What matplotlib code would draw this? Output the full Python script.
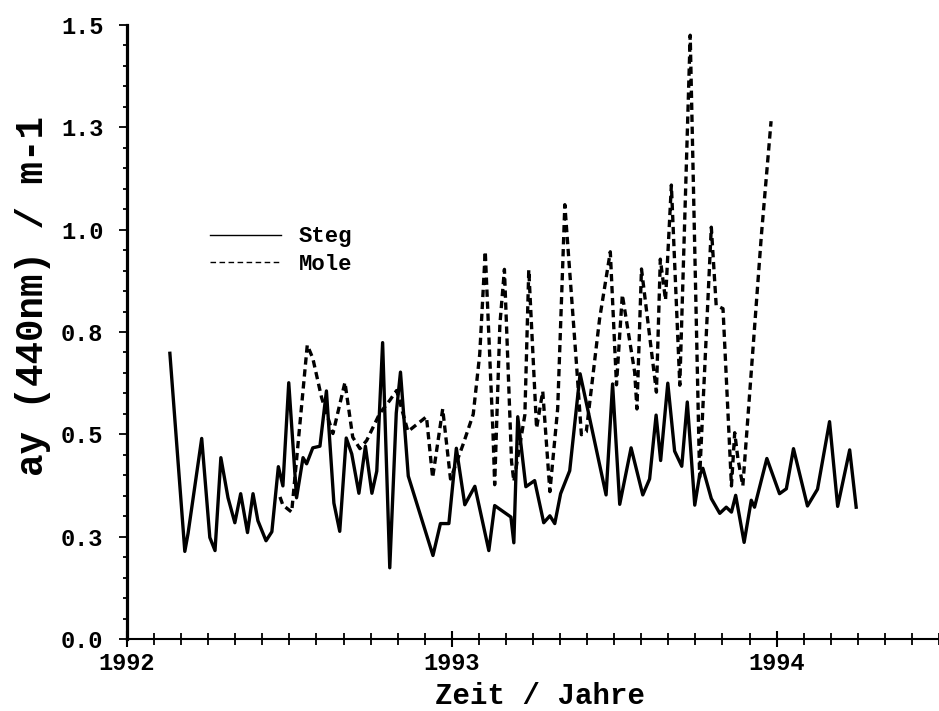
import matplotlib
matplotlib.use("Agg")
import matplotlib.pyplot as plt
from matplotlib.lines import Line2D
from matplotlib.ticker import MultipleLocator

plt.rcParams["font.family"] = ["Liberation Mono", "DejaVu Sans Mono"]
plt.rcParams["font.weight"] = "bold"

# Steg (solid) -- time in decimal years, ay(440nm) in 1/m
steg_t = [1992.132, 1992.178, 1992.188, 1992.230, 1992.255, 1992.271, 1992.289, 1992.311,
          1992.332, 1992.350, 1992.371, 1992.388, 1992.403, 1992.428, 1992.446, 1992.466,
          1992.480, 1992.498, 1992.522, 1992.542, 1992.553, 1992.572, 1992.594, 1992.614,
          1992.637, 1992.655, 1992.675, 1992.692, 1992.714, 1992.734, 1992.754, 1992.769,
          1992.787, 1992.809, 1992.829, 1992.842, 1992.866, 1992.942, 1992.965, 1992.991,
          1993.014, 1993.040, 1993.071, 1993.114, 1993.132, 1993.182, 1993.191, 1993.203,
          1993.228, 1993.255, 1993.283, 1993.302, 1993.317, 1993.335, 1993.363, 1993.395,
          1993.475, 1993.495, 1993.517, 1993.552, 1993.588, 1993.609, 1993.629, 1993.643,
          1993.665, 1993.686, 1993.708, 1993.725, 1993.748, 1993.763, 1993.773, 1993.799,
          1993.825, 1993.845, 1993.861, 1993.874, 1993.900, 1993.922, 1993.932, 1993.970,
          1994.009, 1994.030, 1994.052, 1994.095, 1994.126, 1994.163, 1994.188, 1994.225,
          1994.245]
steg_v = [0.698, 0.214, 0.258, 0.490, 0.248, 0.216, 0.443, 0.345,
          0.284, 0.355, 0.260, 0.355, 0.289, 0.240, 0.262, 0.421,
          0.374, 0.626, 0.345, 0.443, 0.428, 0.467, 0.471, 0.606,
          0.332, 0.263, 0.491, 0.452, 0.356, 0.471, 0.356, 0.410,
          0.724, 0.174, 0.552, 0.652, 0.398, 0.204, 0.282, 0.282,
          0.466, 0.328, 0.373, 0.216, 0.326, 0.298, 0.235, 0.543,
          0.372, 0.387, 0.284, 0.301, 0.282, 0.355, 0.411, 0.648,
          0.352, 0.623, 0.329, 0.467, 0.352, 0.391, 0.547, 0.436,
          0.625, 0.459, 0.422, 0.579, 0.327, 0.400, 0.417, 0.343,
          0.307, 0.322, 0.310, 0.351, 0.236, 0.339, 0.322, 0.441,
          0.355, 0.367, 0.465, 0.325, 0.366, 0.531, 0.324, 0.462,
          0.322]

# Mole (dashed)
mole_t = [1992.471, 1992.480, 1992.507, 1992.555, 1992.572, 1992.599, 1992.634, 1992.671,
          1992.695, 1992.717, 1992.738, 1992.778, 1992.809, 1992.830, 1992.865, 1992.922,
          1992.941, 1992.972, 1992.996, 1993.035, 1993.066, 1993.086, 1993.103, 1993.127,
          1993.132, 1993.148, 1993.162, 1993.184, 1993.191, 1993.225, 1993.237, 1993.261,
          1993.280, 1993.302, 1993.326, 1993.348, 1993.384, 1993.399, 1993.414, 1993.455,
          1993.488, 1993.507, 1993.525, 1993.563, 1993.570, 1993.584, 1993.630, 1993.642,
          1993.658, 1993.676, 1993.702, 1993.734, 1993.763, 1993.799, 1993.814, 1993.835,
          1993.861, 1993.871, 1993.881, 1993.896, 1993.953, 1993.983]
mole_v = [0.347, 0.327, 0.310, 0.718, 0.686, 0.590, 0.502, 0.627,
          0.493, 0.465, 0.485, 0.551, 0.583, 0.607, 0.507, 0.543,
          0.394, 0.562, 0.391, 0.476, 0.549, 0.696, 0.947, 0.500,
          0.377, 0.768, 0.903, 0.433, 0.385, 0.548, 0.902, 0.515,
          0.605, 0.360, 0.563, 1.061, 0.670, 0.499, 0.506, 0.782,
          0.946, 0.621, 0.841, 0.652, 0.562, 0.904, 0.603, 0.928,
          0.828, 1.109, 0.620, 1.475, 0.395, 1.006, 0.815, 0.807,
          0.374, 0.504, 0.440, 0.374, 0.985, 1.265]

xticks = [1992, 1993, 1994]
xticklabels = ["1992", "1993", "1994"]
yticks = [0.0, 0.25, 0.5, 0.75, 1.0, 1.25, 1.5]
yticklabels = ["0.0", "0.3", "0.5", "0.8", "1.0", "1.3", "1.5"]

fig = plt.figure(figsize=(9.39, 7.11), dpi=100)
ax = fig.add_axes([127 / 939, 72 / 711, 812 / 939, 614 / 711])

ax.plot(steg_t, steg_v, color="black", lw=2.4)
ax.plot(mole_t, mole_v, color="black", lw=2.4, ls=(0, (2.2, 1.4)))

ax.set_xlim(1992, 1994.5)
ax.set_ylim(0, 1.5)
for s in ("top", "right"):
    ax.spines[s].set_visible(False)
ax.spines["left"].set_linewidth(2.3)
ax.spines["bottom"].set_linewidth(1.5)

ax.set_xticks(xticks, xticklabels)
ax.xaxis.set_minor_locator(MultipleLocator(1 / 12))
ax.set_yticks(yticks, yticklabels)
ax.yaxis.set_minor_locator(MultipleLocator(0.05))
ax.tick_params(axis="x", which="major", direction="inout", length=11, width=1.5,
               labelsize=17, pad=4)
ax.tick_params(axis="x", which="minor", direction="inout", length=9, width=1.3)
ax.tick_params(axis="y", which="major", direction="out", length=6, width=1.3,
               labelsize=17, pad=11)
ax.tick_params(axis="y", which="minor", direction="out", length=3, width=1.3)

fig.text(33 / 939, (711 - 296) / 711, "ay (440nm) / m-1", rotation=90,
         ha="center", va="center", fontsize=27, fontweight="bold")
fig.text(540 / 939, 1 / 711, "Zeit / Jahre",
         ha="center", va="bottom", fontsize=21, fontweight="bold")

handles = [Line2D([], [], color="black", lw=1.0),
           Line2D([], [], color="black", lw=1.0, ls=(0, (4, 2.5)))]
ax.legend(handles, ["Steg", "Mole"], loc="upper left", bbox_to_anchor=(0.102, 0.672),
          frameon=False, handlelength=3.2, handletextpad=0.8,
          labelspacing=0.3, borderpad=0, borderaxespad=0,
          prop={"weight": "bold", "size": 16})

fig.savefig("out.png", dpi=100)
